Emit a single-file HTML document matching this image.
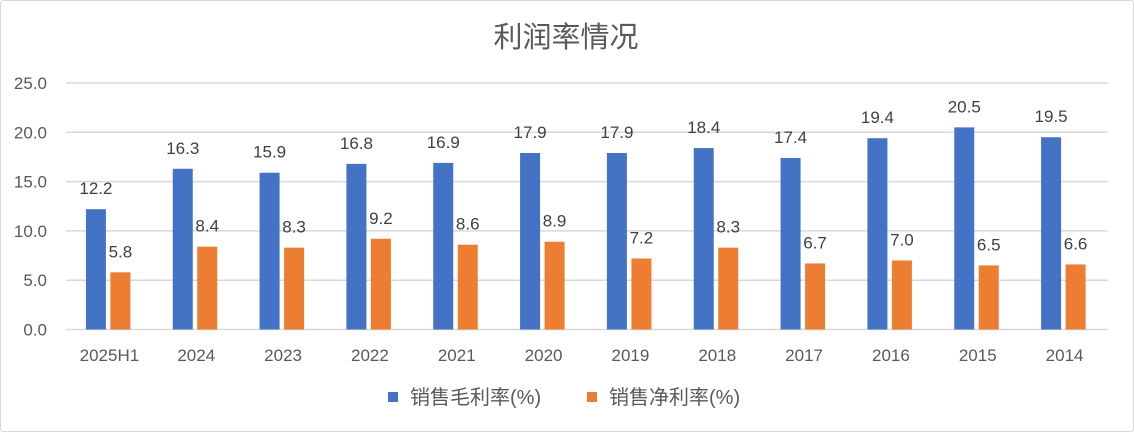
<!DOCTYPE html>
<html><head><meta charset="utf-8"><style>
html,body{margin:0;padding:0;background:#fff;}
svg{display:block;font-family:"Liberation Sans","Noto Sans CJK SC",sans-serif;}
</style></head><body>
<svg id="chart" width="1134" height="432">
<rect x="0.5" y="0.5" width="1133" height="431" rx="3" fill="#fff" stroke="#d9d9d9"/>
<text x="566" y="47" text-anchor="middle" font-size="29" fill="#595959">利润率情况</text>
<g id="grid"></g><g id="bars"></g><g id="xlabels"></g>
<g>
<rect x="388" y="392" width="10" height="10" fill="#4472c4"/>
<text x="410" y="404" font-size="20" fill="#595959">销售毛利率(%)</text>
<rect x="587" y="392" width="10" height="10" fill="#ed7d31"/>
<text x="609" y="404" font-size="20" fill="#595959">销售净利率(%)</text>
</g>
</svg>
<script>
const categories=["2025H1","2024","2023","2022","2021","2020","2019","2018","2017","2016","2015","2014"];
const grossMargin=[12.2,16.3,15.9,16.8,16.9,17.9,17.9,18.4,17.4,19.4,20.5,19.5];
const netMargin=[5.8,8.4,8.3,9.2,8.6,8.9,7.2,8.3,6.7,7.0,6.5,6.6];
const yTicks=[0,5,10,15,20,25];
const NS="http://www.w3.org/2000/svg";
const x0=66,x1=1108,yb=329.5,yt=83;
const y=v=>yb-(v/25)*(yb-yt);
const bw=(x1-x0)/categories.length;
const xc=i=>x0+bw*(i+0.5);
function mk(t,a,p){const e=document.createElementNS(NS,t);for(const k in a)e.setAttribute(k,a[k]);p.appendChild(e);return e;}
const g=document.getElementById('grid'),b=document.getElementById('bars'),xl=document.getElementById('xlabels');
yTicks.forEach(v=>{
 const l=mk('line',{x1:x0,x2:x1,y1:y(v),y2:y(v),stroke:'#d9d9d9','stroke-width':1.5},g);
 
 
 const t=mk('text',{x:47,y:y(v)+6,'text-anchor':'end','font-size':17,fill:'#595959'},g);
 t.textContent=v.toFixed(1);
 
 
});
categories.forEach((c,i)=>{
 const cx=xc(i);
 [[grossMargin[i],cx-23.5,'#4472c4','gross'],[netMargin[i],cx+1,'#ed7d31','net']].forEach(([v,x,col,n])=>{
  const r=mk('rect',{x:x,y:y(v),width:20,height:yb-y(v),fill:col},b);
  
  
  const t=mk('text',{x:x+10,y:y(v)-15,'text-anchor':'middle','font-size':17,fill:'#404040'},b);
  t.textContent=v.toFixed(1);
  
  
 });
 const t=mk('text',{x:cx,y:361,'text-anchor':'middle','font-size':17,fill:'#595959'},xl);
 t.textContent=c;
 
 
});
</script>
</body></html>
